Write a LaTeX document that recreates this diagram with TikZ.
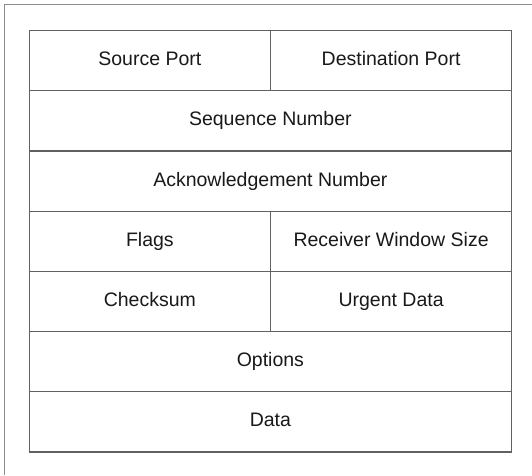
\documentclass[tikz,border=0pt]{standalone}
\usepackage{fontspec}
\setmainfont{Liberation Sans}
\begin{document}
\begin{tikzpicture}[x=1pt,y=1pt,
  cell/.style={draw=black!62, line width=1.2pt, inner sep=0pt, anchor=north west,
    minimum height=60.2pt, text height=14pt, text depth=4pt,
    font=\fontsize{19.5}{22}\selectfont, text=black!90},
  wide/.style={cell, minimum width=482.5pt},
  halfL/.style={cell, minimum width=241.5pt},
  halfR/.style={cell, minimum width=241pt},
  frame/.style={draw=black!45, line width=1.3pt}]
\useasboundingbox (0,0) rectangle (532,475);
\fill[white] (0,0) rectangle (532,475);
\coordinate (fb) at (4.5,0);
\coordinate (fc) at (4.5,470.5);
\coordinate (fr) at (532,470.5);
\draw[frame] (fb) -- (fc) -- (fr);
\node[halfL] (src) at (28.5,445) {Source Port};
\node[halfR] (dst) at (270,445) {Destination Port};
\node[wide] (seq) at (28.5,384.8) {Sequence Number};
\node[wide] (ack) at (28.5,324.6) {Acknowledgement Number};
\node[halfL] (flg) at (28.5,264.4) {Flags};
\node[halfR] (win) at (270,264.4) {Receiver Window Size};
\node[halfL] (chk) at (28.5,204.2) {Checksum};
\node[halfR] (urg) at (270,204.2) {Urgent Data};
\node[wide] (opt) at (28.5,144) {Options};
\node[wide] (dat) at (28.5,83.8) {Data};
\end{tikzpicture}
\end{document}
